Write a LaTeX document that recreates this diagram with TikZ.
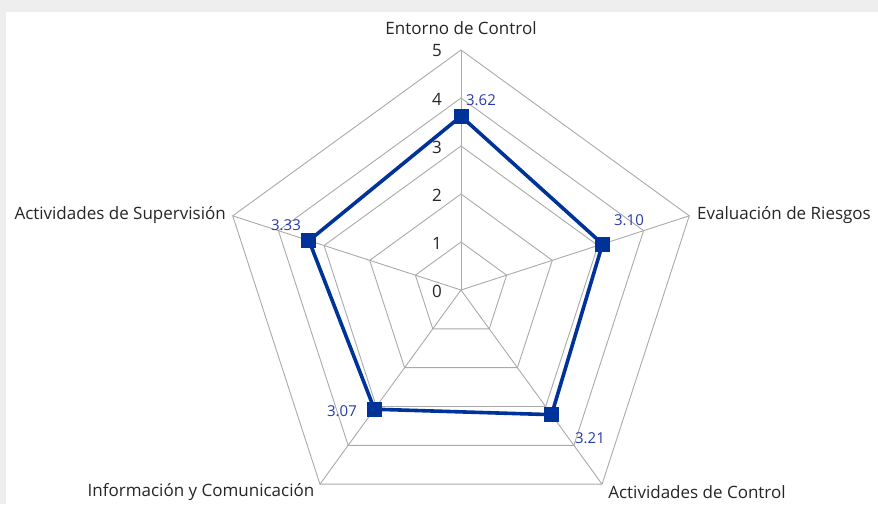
\documentclass[tikz,border=0pt]{standalone}
\usepackage{fontspec}
\setmainfont{Open Sans}
\usetikzlibrary{calc}
\begin{document}
\begin{tikzpicture}[x=1pt,y=-1pt,
  grid/.style={draw=gridgray,line width=0.9pt},
  series/.style={draw=serblue,line width=3.6pt,line join=round},
  marker/.style={fill=serblue,draw=none,minimum size=15pt,inner sep=0pt,rectangle},
  catlab/.style={font=\fontsize{17}{19}\selectfont,text=black!85,inner sep=0pt},
  ticklab/.style={font=\fontsize{17}{19}\selectfont,text=black!85,inner sep=0pt},
  vallab/.style={font=\fontsize{15}{17}\selectfont,text=vallabblue,inner sep=0pt}]
\definecolor{gridgray}{RGB}{170,170,170}
\definecolor{serblue}{RGB}{0,51,153}
\definecolor{vallabblue}{RGB}{40,60,170}
\definecolor{framegray}{RGB}{238,238,238}
\useasboundingbox (0,0) rectangle (878,504);
\fill[framegray] (0,0) rectangle (878,504);
\fill[white] (6,12) rectangle (878,504);
% geometry: centre (461,290), 48px per unit
\coordinate (O) at (461,290);
\foreach \r in {1,...,5}{
  \draw[grid] ($(O)+(90:\r*48pt)$) -- ($(O)+(18:\r*48pt)$) -- ($(O)+(-54:\r*48pt)$) -- ($(O)+(-126:\r*48pt)$) -- ($(O)+(162:\r*48pt)$) -- cycle;
}
\foreach \a/\n in {90/A,18/B,-54/C,-126/D,162/E}{
  \coordinate (tip\n) at ($(O)+(\a:240pt)$);
  \draw[grid] (O) -- (tip\n);
}
% tick labels
\foreach \r in {0,...,5}{
  \node[ticklab] (t\r) at (437,{291-\r*48}) {\r};
}
% category labels
\node[catlab] (cA) at (461,28) {Entorno de Control};
\node[catlab,anchor=west] (cB) at (697,215) {Evaluación de Riesgos};
\node[catlab,anchor=east] (cE) at (226,215) {Actividades de Supervisión};
\node[catlab] (cD) at (201,492) {Información y Comunicación};
\node[catlab] (cC) at (697,492) {Actividades de Control};
% data
\coordinate (pA) at ($(O)+(90:3.62*48pt)$);
\coordinate (pB) at ($(O)+(18:3.10*48pt)$);
\coordinate (pC) at ($(O)+(-54:3.21*48pt)$);
\coordinate (pD) at ($(O)+(-126:3.07*48pt)$);
\coordinate (pE) at ($(O)+(162:3.33*48pt)$);
\draw[series] (pA) -- (pB) -- (pC) -- (pD) -- (pE) -- cycle;
\foreach \n in {A,B,C,D,E}{
  \node[marker] (m\n) at (p\n) {};
}
\node[vallab] (vA) at (481,100) {3.62};
\node[vallab] (vB) at (629,220) {3.10};
\node[vallab] (vC) at (590,438) {3.21};
\node[vallab] (vD) at (342,411) {3.07};
\node[vallab] (vE) at (286,225) {3.33};
\end{tikzpicture}
\end{document}
